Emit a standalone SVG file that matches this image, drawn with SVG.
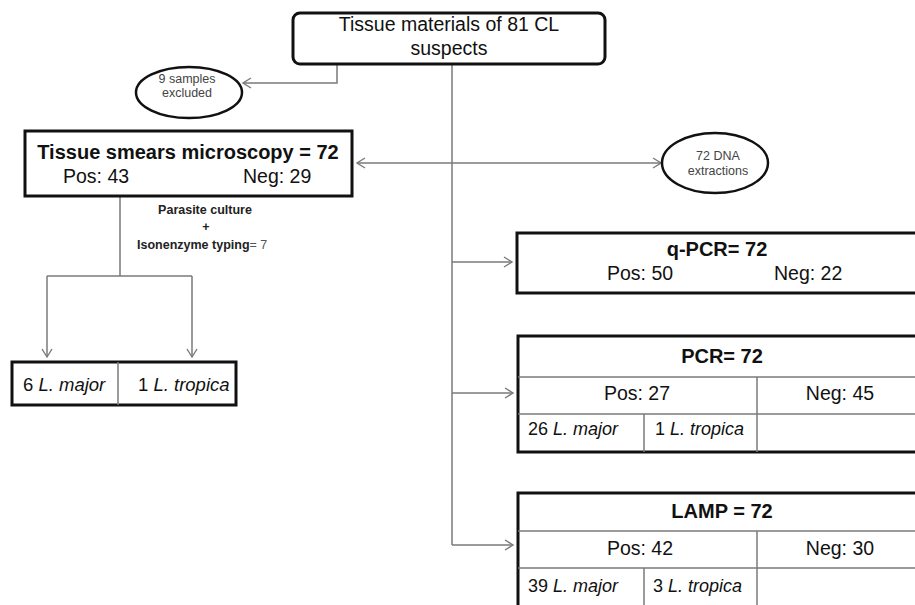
<svg xmlns="http://www.w3.org/2000/svg" width="915" height="605" viewBox="0 0 915 605">
<defs>
<marker id="arr" markerUnits="userSpaceOnUse" markerWidth="12" markerHeight="14" refX="9" refY="6" orient="auto">
<path d="M1,1 L9,6 L1,11" fill="none" stroke="#7a7a7a" stroke-width="1.4"/>
</marker>
<style>
.box{fill:#fff;stroke:#111;stroke-width:3}
.ell{fill:#fff;stroke:#111;stroke-width:2.5}
.grid{stroke:#7a7a7a;stroke-width:1.5;fill:none}
.con{stroke:#7a7a7a;stroke-width:1.5;fill:none}
.t{font-family:"Liberation Sans",Arial,sans-serif;fill:#111}
.big{font-size:19.5px}
.bold{font-weight:bold}
.sm{font-size:12.5px;fill:#444}
.it{font-style:italic}
.cal{font-family:"Liberation Sans",Arial,sans-serif;font-weight:bold;font-size:12.5px;fill:#222}
</style>
</defs>
<rect width="915" height="605" fill="#fff"/>

<g id="connectors">
<path class="con" d="M337,64 V83 H243" marker-end="url(#arr)"/>
<path class="con" d="M452,64 V545"/>
<path class="con" d="M452,163 H357" marker-end="url(#arr)"/>
<path class="con" d="M452,163 H661" marker-end="url(#arr)"/>
<path class="con" d="M452,262 H512" marker-end="url(#arr)"/>
<path class="con" d="M452,393 H513" marker-end="url(#arr)"/>
<path class="con" d="M452,545 H513" marker-end="url(#arr)"/>
<path class="con" d="M120,196 V276"/>
<path class="con" d="M47,276 H192"/>
<path class="con" d="M47,276 V357" marker-end="url(#arr)"/>
<path class="con" d="M192,276 V357" marker-end="url(#arr)"/>
<text class="cal" x="205" y="214" text-anchor="middle">Parasite culture</text>
<text class="cal" x="206" y="231" text-anchor="middle">+</text>
<text class="cal" x="137" y="249">Isonenzyme typing<tspan font-weight="normal" fill="#555">= 7</tspan></text>
</g>

<g id="suspects">
<rect class="box" x="293" y="13" width="312" height="51" rx="7"/>
<text class="t big" x="449" y="31" text-anchor="middle">Tissue materials of 81 CL</text>
<text class="t big" x="449" y="55" text-anchor="middle">suspects</text>
</g>

<g id="excluded">
<ellipse class="ell" cx="189" cy="92.5" rx="53" ry="25.5"/>
<text class="t sm" x="187" y="83" text-anchor="middle">9 samples</text>
<text class="t sm" x="187" y="97" text-anchor="middle">excluded</text>
</g>

<g id="smear">
<rect class="box" x="25" y="131" width="327" height="65"/>
<text class="t bold" font-size="20" x="188" y="159" text-anchor="middle">Tissue smears microscopy = 72</text>
<text class="t big" x="63" y="183">Pos: 43</text>
<text class="t big" x="243" y="183">Neg: 29</text>
</g>

<g id="dna">
<ellipse class="ell" cx="715" cy="163" rx="53" ry="30"/>
<text class="t sm" x="718" y="160" text-anchor="middle">72 DNA</text>
<text class="t sm" x="718" y="175" text-anchor="middle">extractions</text>
</g>

<g id="culture-result">
<rect class="box" x="12" y="362" width="224" height="43"/>
<line class="grid" x1="118" y1="362" x2="118" y2="405"/>
<text class="t" font-size="18.5" x="23" y="391">6 <tspan class="it">L. major</tspan></text>
<text class="t" font-size="18.5" x="138" y="391">1 <tspan class="it">L. tropica</tspan></text>
</g>

<g id="qpcr">
<rect class="box" x="517" y="233" width="420" height="60"/>
<text class="t bold" font-size="20" x="717" y="256" text-anchor="middle">q-PCR= 72</text>
<text class="t big" x="607" y="280">Pos: 50</text>
<text class="t big" x="774" y="280">Neg: 22</text>
</g>

<g id="pcr">
<rect class="box" x="518" y="336" width="420" height="116"/>
<line class="grid" x1="518" y1="377" x2="938" y2="377"/>
<line class="grid" x1="518" y1="414" x2="938" y2="414"/>
<line class="grid" x1="757" y1="377" x2="757" y2="452"/>
<line class="grid" x1="644" y1="414" x2="644" y2="452"/>
<text class="t bold" font-size="20" x="722" y="363" text-anchor="middle">PCR= 72</text>
<text class="t big" x="637" y="400" text-anchor="middle">Pos: 27</text>
<text class="t big" x="840" y="400" text-anchor="middle">Neg: 45</text>
<text class="t" font-size="18" x="528" y="435">26 <tspan class="it">L. major</tspan></text>
<text class="t" font-size="18" x="655" y="435">1 <tspan class="it">L. tropica</tspan></text>
</g>

<g id="lamp">
<rect class="box" x="518" y="493" width="420" height="150"/>
<line class="grid" x1="518" y1="531" x2="938" y2="531"/>
<line class="grid" x1="518" y1="568" x2="938" y2="568"/>
<line class="grid" x1="757" y1="531" x2="757" y2="643"/>
<line class="grid" x1="644" y1="568" x2="644" y2="643"/>
<text class="t bold" font-size="20" x="722" y="518" text-anchor="middle">LAMP = 72</text>
<text class="t big" x="640" y="555" text-anchor="middle">Pos: 42</text>
<text class="t big" x="840" y="555" text-anchor="middle">Neg: 30</text>
<text class="t" font-size="18" x="528" y="592">39 <tspan class="it">L. major</tspan></text>
<text class="t" font-size="18" x="653" y="592">3 <tspan class="it">L. tropica</tspan></text>
</g>
</svg>
